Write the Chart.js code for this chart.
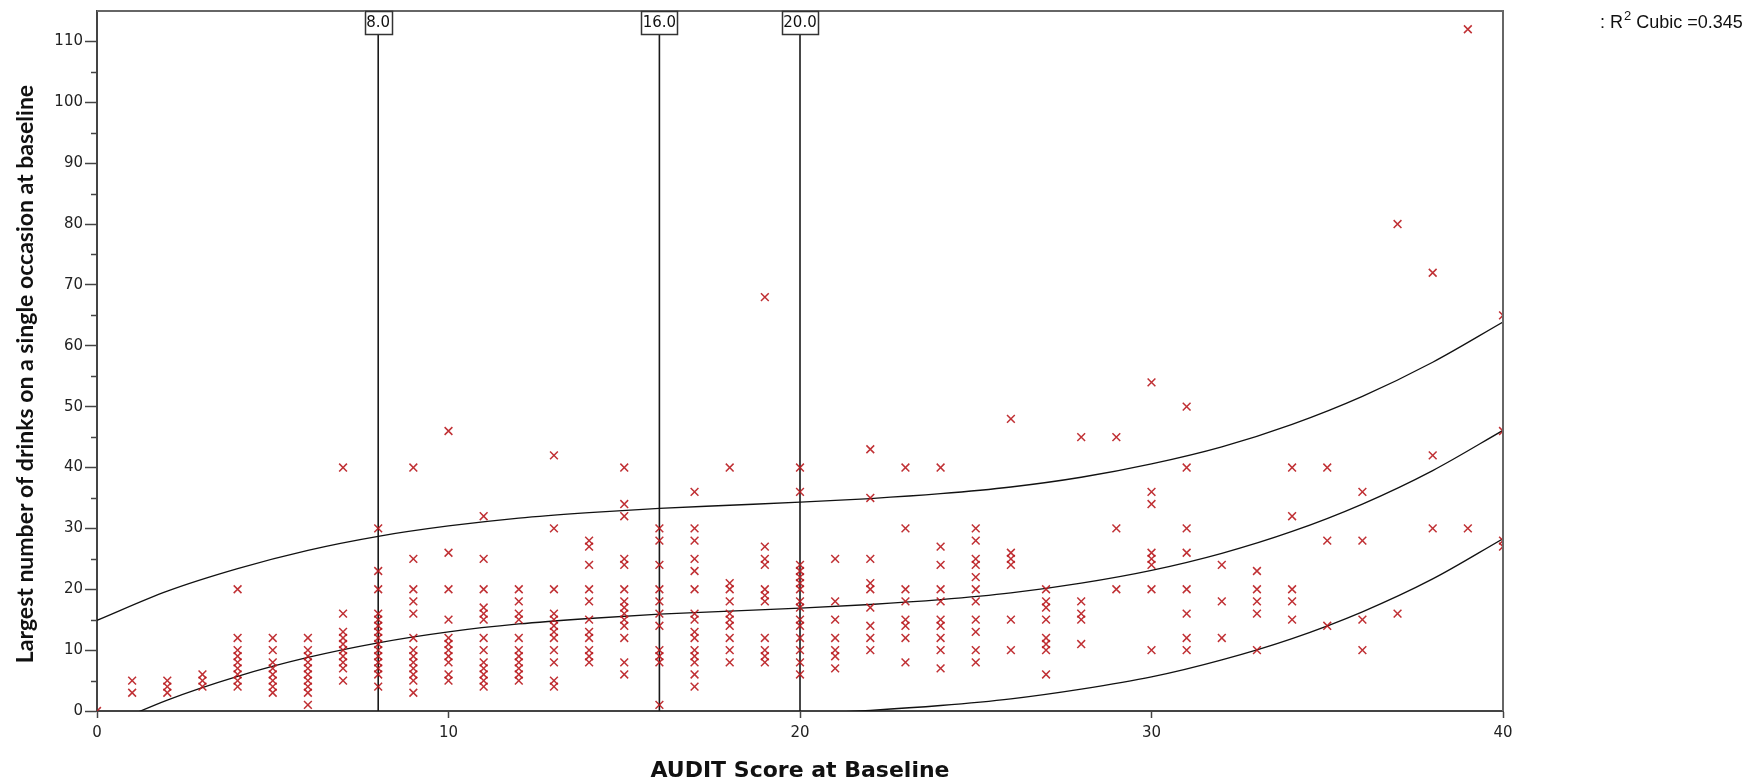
<!DOCTYPE html>
<html>
<head>
<meta charset="utf-8">
<script src="https://cdn.jsdelivr.net/npm/chart.js@4.4.1/dist/chart.umd.min.js"></script>
<style>
  html, body { margin: 0; padding: 0; background: #fff; }
  #wrap { width: 1753px; height: 781px; }
</style>
</head>
<body>
<div id="wrap"><canvas id="auditChart" width="1753" height="781"></canvas></div>
<script>
// AUDIT score (x) and the drinks values seen in each score column (y)
const auditScore = [0, 1, 2, 3, 4, 5, 6, 7, 8, 9, 10, 11, 12, 13, 14, 15, 16, 17, 18, 19, 20,
    21, 22, 23, 24, 25, 26, 27, 28, 29, 30, 31, 32, 33, 34, 35, 36, 37, 38, 39, 40];
const drinksAtScore = [
    [0],
    [5, 3],
    [5, 4, 3],
    [6, 5, 4],
    [20, 12, 10, 9, 8, 7, 6, 5, 4],
    [12, 10, 8, 7, 6, 5, 4, 3],
    [12, 10, 9, 8, 7, 6, 5, 4, 3, 1],
    [40, 16, 13, 12, 11, 10, 9, 8, 7, 5],
    [30, 23, 20, 16, 15, 14, 13, 12, 11, 10, 9, 8, 7, 6, 4],
    [40, 25, 20, 18, 16, 12, 10, 9, 8, 7, 6, 5, 3],
    [46, 26, 20, 15, 12, 11, 10, 9, 8, 6, 5],
    [32, 25, 20, 17, 16, 15, 12, 10, 8, 7, 6, 5, 4],
    [20, 18, 16, 15, 12, 10, 9, 8, 7, 6, 5],
    [42, 30, 20, 16, 15, 14, 13, 12, 10, 8, 5, 4],
    [28, 27, 24, 20, 18, 15, 13, 12, 10, 9, 8],
    [40, 34, 32, 25, 24, 20, 18, 17, 16, 15, 14, 12, 8, 6],
    [30, 28, 24, 20, 18, 16, 14, 10, 9, 8, 1],
    [36, 30, 28, 25, 23, 20, 16, 15, 13, 12, 10, 9, 8, 6, 4],
    [40, 21, 20, 18, 16, 15, 14, 12, 10, 8],
    [68, 27, 25, 24, 20, 19, 18, 12, 10, 9, 8],
    [40, 36, 24, 23, 22, 21, 20, 18, 17, 15, 14, 12, 10, 8, 6],
    [25, 18, 15, 12, 10, 9, 7],
    [43, 35, 25, 21, 20, 17, 14, 12, 10],
    [40, 30, 20, 18, 15, 14, 12, 8],
    [40, 27, 24, 20, 18, 15, 14, 12, 10, 7],
    [30, 28, 25, 24, 22, 20, 18, 15, 13, 10, 8],
    [48, 26, 25, 24, 15, 10],
    [20, 18, 17, 15, 12, 11, 10, 6],
    [45, 18, 16, 15, 11],
    [45, 30, 20],
    [54, 36, 34, 26, 25, 24, 20, 10],
    [50, 40, 30, 26, 20, 16, 12, 10],
    [24, 18, 12],
    [23, 20, 18, 16, 10],
    [40, 32, 20, 18, 15],
    [40, 28, 14],
    [36, 28, 15, 10],
    [80, 16],
    [72, 42, 30],
    [112, 30],
    [65, 46, 28, 27]
];

// cubic fit and its prediction band, every 2 points
const fitX     = [0, 2, 4, 6, 8, 10, 12, 14, 16, 18, 20, 22, 24, 26, 28, 30, 32, 34, 36, 38, 40];
const fitMid   = [-3.1, 1.8, 5.7, 8.8, 11.2, 13.0, 14.3, 15.2, 15.9, 16.4, 16.9, 17.5, 18.3, 19.4, 21.0, 23.1, 25.9, 29.5, 34.0, 39.5, 46.1];
const fitUpper = [14.9, 19.7, 23.4, 26.4, 28.7, 30.4, 31.7, 32.6, 33.3, 33.8, 34.3, 34.9, 35.7, 36.8, 38.4, 40.6, 43.4, 47.1, 51.7, 57.3, 63.9];
const fitLower = [-21.1, -16.1, -12.0, -8.8, -6.3, -4.4, -3.1, -2.2, -1.5, -1.0, -0.5, 0.1, 0.9, 2.0, 3.6, 5.6, 8.4, 11.9, 16.3, 21.7, 28.3];

const cutPoints = [8, 16, 20];
const cutLabels = ['8.0', '16.0', '20.0'];
const xTicks = [0, 10, 20, 30, 40];
const yTicks = [0, 10, 20, 30, 40, 50, 60, 70, 80, 90, 100, 110];
const yMinorTicks = [5, 15, 25, 35, 45, 55, 65, 75, 85, 95, 105];
const fitText = '0.345';
const yTitle = 'Largest number of drinks on a single occasion at baseline';

const Y_MAX = 115;

const points = [];
auditScore.forEach((s, i) => {
    drinksAtScore[i].forEach(d => points.push({ x: s, y: d }));
});

const curve = ys => fitX.map((x, i) => ({ x: x, y: ys[i] }));

const fitLine = (ys) => ({
    type: 'line',
    data: curve(ys),
    borderColor: '#111',
    borderWidth: 1.3,
    pointRadius: 0,
    cubicInterpolationMode: 'monotone',
    fill: false,
    clip: 0
});

const cutLines = cutPoints.map(c => ({
    type: 'line',
    data: [{ x: c, y: 0 }, { x: c, y: Y_MAX }],
    borderColor: '#1a1a1a',
    borderWidth: 1.6,
    pointRadius: 0,
    fill: false
}));

const extras = {
    id: 'extras',
    afterDraw(chart) {
        const ctx = chart.ctx;
        const a = chart.chartArea;
        const xs = chart.scales.x;
        const ys = chart.scales.y;
        ctx.save();

        // frame top + right
        ctx.strokeStyle = '#666';
        ctx.lineWidth = 2;
        ctx.beginPath();
        ctx.moveTo(a.left, a.top);
        ctx.lineTo(a.right, a.top);
        ctx.lineTo(a.right, a.bottom);
        ctx.stroke();

        // minor y ticks
        ctx.strokeStyle = '#444';
        ctx.lineWidth = 1.5;
        yMinorTicks.forEach(v => {
            const py = Math.round(ys.getPixelForValue(v)) + 0.5;
            ctx.beginPath();
            ctx.moveTo(a.left - 6, py);
            ctx.lineTo(a.left, py);
            ctx.stroke();
        });

        // boxed labels on cut lines
        ctx.font = '15px "DejaVu Sans"';
        ctx.textAlign = 'center';
        ctx.textBaseline = 'middle';
        cutPoints.forEach((c, i) => {
            const px = xs.getPixelForValue(c);
            const w = Math.round(ctx.measureText(cutLabels[i]).width + 3);
            const top = a.top, h = 23;
            ctx.fillStyle = '#fff';
            ctx.fillRect(px - w / 2, top, w, h);
            ctx.strokeStyle = '#333';
            ctx.lineWidth = 1.5;
            ctx.strokeRect(Math.round(px - w / 2) + 0.5, top + 0.5, w, h);
            ctx.fillStyle = '#111';
            ctx.fillText(cutLabels[i], px, top + h / 2 + 1);
        });

        // y axis title
        ctx.save();
        ctx.translate(26, 374);
        ctx.rotate(-Math.PI / 2);
        ctx.font = 'bold 23px Lato';
        ctx.fillStyle = '#111';
        ctx.textAlign = 'center';
        ctx.textBaseline = 'middle';
        ctx.fillText(yTitle, 0, 0);
        ctx.restore();

        // R2 legend text
        ctx.textAlign = 'left';
        ctx.textBaseline = 'alphabetic';
        ctx.fillStyle = '#111';
        let x = 1600, y = 28;
        ctx.font = '18px "Liberation Sans"';
        ctx.fillText(': R', x, y);
        x += ctx.measureText(': R').width + 1;
        ctx.font = '13px "Liberation Sans"';
        ctx.fillText('2', x, y - 8);
        x += ctx.measureText('2').width + 5;
        ctx.font = '18px "Liberation Sans"';
        ctx.fillText('Cubic =' + fitText, x, y);

        ctx.restore();
    }
};

const ctx = document.getElementById('auditChart');

new Chart(ctx, {
    type: 'scatter',
    data: {
        datasets: [
            {
                type: 'scatter',
                data: points,
                pointStyle: 'crossRot',
                pointRadius: 5.5,
                pointHoverRadius: 5.5,
                borderColor: 'rgba(185,25,30,0.9)',
                backgroundColor: 'rgba(185,25,30,0.9)',
                borderWidth: 1.5,
                clip: 0
            },
            fitLine(fitUpper),
            fitLine(fitMid),
            fitLine(fitLower),
            ...cutLines
        ]
    },
    options: {
        responsive: false,
        animation: false,
        events: [],
        layout: { padding: { left: 0, right: 250, top: 9, bottom: 0 } },
        plugins: {
            legend: { display: false },
            tooltip: { enabled: false }
        },
        scales: {
            x: {
                type: 'linear',
                min: 0,
                max: 40,
                afterBuildTicks: s => { s.ticks = xTicks.map(v => ({ value: v })); },
                afterFit: s => { s.height = 70; },
                border: { color: '#444', width: 2 },
                grid: { drawOnChartArea: false, tickLength: 7, color: '#444', tickWidth: 1.5 },
                ticks: {
                    color: '#222',
                    font: { family: 'DejaVu Sans', size: 15 },
                    padding: 6,
                    maxRotation: 0
                },
                title: {
                    display: true,
                    text: 'AUDIT Score at Baseline',
                    color: '#111',
                    font: { family: 'DejaVu Sans', size: 22, weight: 'bold' },
                    padding: { top: 0, bottom: -3 }
                }
            },
            y: {
                type: 'linear',
                min: 0,
                max: Y_MAX,
                afterBuildTicks: s => { s.ticks = yTicks.map(v => ({ value: v })); },
                afterFit: s => { s.width = 97; },
                border: { color: '#444', width: 2 },
                grid: { drawOnChartArea: false, tickLength: 12, color: '#444', tickWidth: 1.5 },
                ticks: {
                    color: '#222',
                    font: { family: 'DejaVu Sans', size: 15 },
                    padding: 2
                }
            }
        }
    },
    plugins: [extras]
});
</script>
</body>
</html>
